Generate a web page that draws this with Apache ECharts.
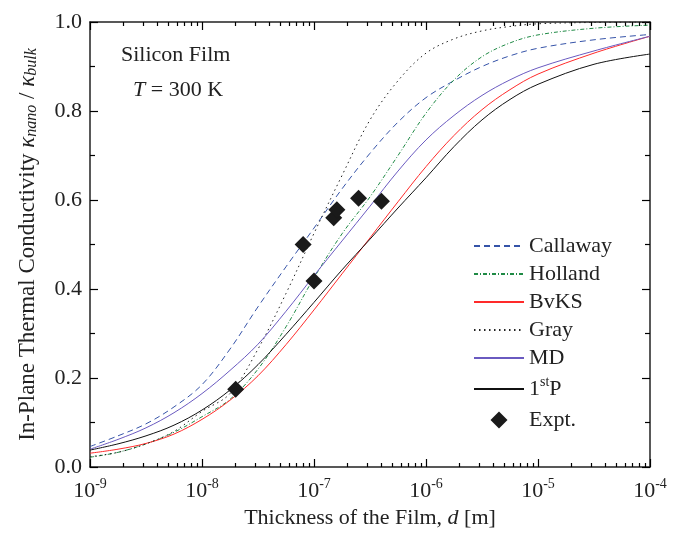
<!DOCTYPE html>
<html>
<head>
<meta charset="utf-8">
<title>Silicon Film</title>
<script src="https://cdn.jsdelivr.net/npm/echarts@6/dist/echarts.min.js"></script>
<style>
html, body { margin: 0; padding: 0; background: #fff; }
#main { width: 681px; height: 535px; }
</style>
</head>
<body>
<div id="main"></div>
<script>
// film thickness grid, as log10(d [m])
var logD = [-9, -8.75, -8.5, -8.25, -8, -7.75, -7.5, -7.25, -7, -6.75, -6.5, -6.25, -6, -5.75, -5.5, -5.25, -5, -4.5, -4];
// kappa_nano / kappa_bulk for each model
var callaway = [0.046, 0.07, 0.097, 0.135, 0.185, 0.265, 0.36, 0.45, 0.537, 0.625, 0.705, 0.775, 0.83, 0.868, 0.9, 0.924, 0.941, 0.96, 0.972];
var holland  = [0.022, 0.033, 0.052, 0.078, 0.113, 0.152, 0.22, 0.315, 0.425, 0.524, 0.607, 0.70, 0.795, 0.87, 0.922, 0.953, 0.971, 0.986, 0.993];
var bvks     = [0.031, 0.04, 0.053, 0.074, 0.107, 0.15, 0.205, 0.275, 0.353, 0.434, 0.515, 0.596, 0.675, 0.745, 0.803, 0.848, 0.883, 0.93, 0.968];
var gray     = [0.023, 0.033, 0.052, 0.08, 0.125, 0.165, 0.265, 0.39, 0.525, 0.655, 0.78, 0.868, 0.93, 0.962, 0.98, 0.99, 0.996, 0.999, 1.0];
var md       = [0.04, 0.062, 0.088, 0.122, 0.165, 0.217, 0.276, 0.35, 0.43, 0.508, 0.586, 0.665, 0.735, 0.79, 0.835, 0.87, 0.897, 0.935, 0.968];
var firstP   = [0.038, 0.052, 0.07, 0.094, 0.128, 0.173, 0.23, 0.298, 0.37, 0.443, 0.512, 0.582, 0.65, 0.72, 0.78, 0.826, 0.86, 0.905, 0.928];
// experiment
var exptD = [2e-8, 8e-8, 1e-7, 1.5e-7, 1.6e-7, 2.5e-7, 4e-7];
var exptK = [0.175, 0.50, 0.418, 0.56, 0.578, 0.604, 0.597];

var FONT = 'Liberation Serif';
var INK = '#222';
var TICK = '#000';

function pairs(ys) {
    return ys.map(function (y, i) { return [Math.pow(10, logD[i]), y]; });
}

// minor tick positions 2..9 inside each decade
var minorX = [];
for (var e = -9; e < -4; e++) {
    for (var k = 2; k < 10; k++) minorX.push(k * Math.pow(10, e));
}

var chart = echarts.init(document.getElementById('main'));

function lineSeries(name, ys, color, type) {
    return {
        name: name,
        type: 'line',
        data: pairs(ys),
        smooth: 0.35,
        symbol: 'none',
        lineStyle: { color: color, width: 1, type: type },
        itemStyle: { color: color },
        z: 2
    };
}

var xBase = {
    type: 'log',
    logBase: 10,
    min: 1e-9,
    max: 1e-4,
    splitLine: { show: false },
    gridIndex: 0
};

chart.setOption({
    animation: false,
    grid: { left: 90, right: 31, top: 22, bottom: 68 },
    graphic: [
        {
            type: 'text', x: 121, y: 55,
            style: { text: 'Silicon Film', fill: INK, font: '22px "Liberation Serif"', verticalAlign: 'middle' }
        },
        {
            type: 'text', x: 133, y: 90,
            style: {
                text: '{i|T} = 300 K', fill: INK, font: '22px "Liberation Serif"', verticalAlign: 'middle',
                rich: { i: { fontStyle: 'italic', fontFamily: FONT, fontSize: 22, fill: INK } }
            }
        }
    ],
    legend: {
        orient: 'vertical',
        left: 468,
        top: 230,
        itemWidth: 50,
        itemHeight: 17,
        itemGap: 6,
        textStyle: {
            fontFamily: FONT, fontSize: 22, color: INK, lineHeight: 22,
            rich: {
                sup: { fontFamily: FONT, fontSize: 14, verticalAlign: 'top', lineHeight: 14, color: INK },
                b: { fontFamily: FONT, fontSize: 22, lineHeight: 28, color: INK }
            }
        },
        formatter: function (name) {
            return name === '1stP' ? '{b|1}{sup|st}{b|P}' : name;
        },
        data: [
            { name: 'Callaway', itemStyle: { opacity: 0 } },
            { name: 'Holland', itemStyle: { opacity: 0 } },
            { name: 'BvKS', itemStyle: { opacity: 0 } },
            { name: 'Gray', itemStyle: { opacity: 0 } },
            { name: 'MD', itemStyle: { opacity: 0 } },
            { name: '1stP', itemStyle: { opacity: 0 } },
            { name: 'Expt.', icon: 'path://M5,0L10,5L5,10L0,5Z', itemStyle: { color: '#1a1a1a', opacity: 1 } }
        ]
    },
    xAxis: [
        Object.assign({}, xBase, {
            position: 'bottom',
            axisLine: { show: true, lineStyle: { color: INK, width: 1.5 } },
            axisTick: { show: true, inside: true, length: 8, lineStyle: { color: TICK, width: 1.2 } },
            axisLabel: {
                margin: 10,
                formatter: function (v) {
                    return '{b|10}{sup|' + Math.round(Math.log10(v)) + '}';
                },
                rich: {
                    b: { fontFamily: FONT, fontSize: 22, lineHeight: 28, color: INK },
                    sup: { fontFamily: FONT, fontSize: 14, lineHeight: 14, verticalAlign: 'top', color: INK }
                }
            },
            name: 'Thickness of the Film, {i|d} [m]',
            nameLocation: 'middle',
            nameGap: 40,
            nameTextStyle: {
                fontFamily: FONT, fontSize: 22, color: INK,
                rich: { i: { fontFamily: FONT, fontSize: 22, fontStyle: 'italic', color: INK } }
            }
        }),
        Object.assign({}, xBase, {
            position: 'bottom',
            axisLine: { show: false },
            axisTick: { show: true, inside: true, length: 4, customValues: minorX, lineStyle: { color: TICK, width: 1.2 } },
            axisLabel: { show: false }
        }),
        Object.assign({}, xBase, {
            position: 'top',
            axisLine: { show: true, lineStyle: { color: INK, width: 1.5 } },
            axisTick: { show: true, inside: true, length: 8, lineStyle: { color: TICK, width: 1.2 } },
            axisLabel: { show: false }
        }),
        Object.assign({}, xBase, {
            position: 'top',
            axisLine: { show: false },
            axisTick: { show: true, inside: true, length: 4, customValues: minorX, lineStyle: { color: TICK, width: 1.2 } },
            axisLabel: { show: false }
        })
    ],
    yAxis: [
        {
            type: 'value',
            position: 'left',
            min: 0, max: 1, interval: 0.2,
            splitLine: { show: false },
            axisLine: { show: true, lineStyle: { color: INK, width: 1.5 } },
            axisTick: { show: true, inside: true, length: 8, lineStyle: { color: TICK, width: 1.2 } },
            minorTick: { show: true, splitNumber: 2, length: 5, lineStyle: { color: TICK, width: 1.2 } },
            axisLabel: {
                margin: 8,
                fontFamily: FONT, fontSize: 22, color: INK,
                formatter: function (v) { return v.toFixed(1); }
            },
            name: 'In-Plane Thermal Conductivity {k|κ}{sub|nano}{t| / }{k|κ}{sub|bulk}',
            nameLocation: 'middle',
            nameRotate: 90,
            nameGap: 50,
            nameTextStyle: {
                fontFamily: FONT, fontSize: 23, color: INK, lineHeight: 24,
                rich: {
                    k: { fontFamily: FONT, fontSize: 23, fontStyle: 'italic', lineHeight: 24, color: INK },
                    t: { fontFamily: FONT, fontSize: 23, lineHeight: 24, color: INK },
                    sub: { fontFamily: FONT, fontSize: 16, fontStyle: 'italic', lineHeight: 16, verticalAlign: 'bottom', color: INK }
                }
            }
        },
        {
            type: 'value',
            position: 'right',
            min: 0, max: 1, interval: 0.2,
            splitLine: { show: false },
            axisLine: { show: true, lineStyle: { color: INK, width: 1.5 } },
            axisTick: { show: true, inside: true, length: 8, lineStyle: { color: TICK, width: 1.2 } },
            minorTick: { show: true, splitNumber: 2, length: 5, lineStyle: { color: TICK, width: 1.2 } },
            axisLabel: { show: false }
        }
    ],
    series: [
        lineSeries('Callaway', callaway, '#3553a8', [6, 4]),
        lineSeries('Holland', holland, '#1f8a45', [4, 2, 1, 2]),
        lineSeries('BvKS', bvks, '#ff2a2a', 'solid'),
        lineSeries('Gray', gray, '#222', [1.5, 3.5]),
        lineSeries('MD', md, '#6a5ac0', 'solid'),
        lineSeries('1stP', firstP, '#111', 'solid'),
        {
            name: 'Expt.',
            type: 'scatter',
            symbol: 'diamond',
            symbolSize: 17,
            itemStyle: { color: '#1a1a1a', opacity: 1 },
            data: exptD.map(function (d, i) { return [d, exptK[i]]; }),
            z: 5
        }
    ]
});
</script>
</body>
</html>
